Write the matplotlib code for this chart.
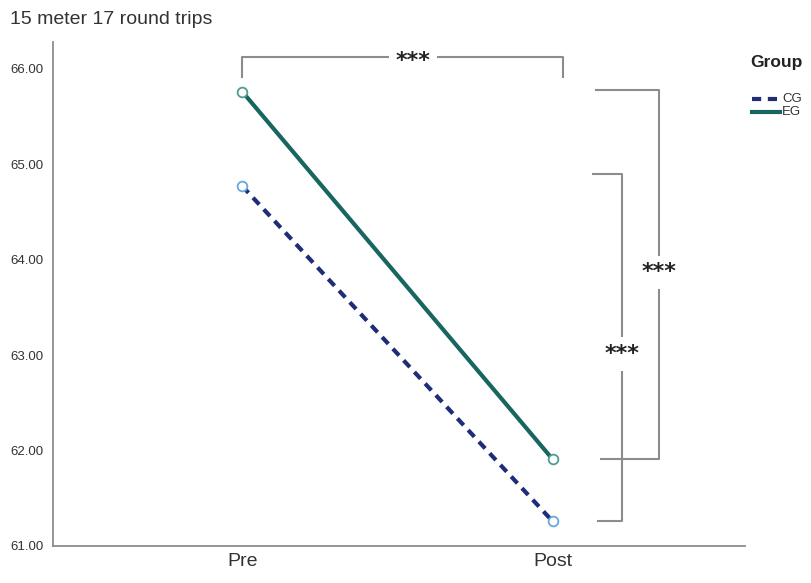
import numpy as np
import matplotlib.pyplot as plt
import matplotlib as mpl
from matplotlib.lines import Line2D

# data
times = ['Pre', 'Post']
cg_means = [64.77, 61.26]
eg_means = [65.76, 61.91]
y_ticks = [61, 62, 63, 64, 65, 66]
groups = ['CG', 'EG']

# colours
cg_color = '#1f2d78'
eg_color = '#17665f'
cg_marker = '#6aa6e0'
eg_marker = '#4f9c92'
grey = '#8c8c8c'
cg_dash = (0, (2.2, 1.6))

mpl.rcParams['font.family'] = ['Liberation Sans', 'DejaVu Sans']

fig = plt.figure(figsize=(8.12, 5.83), dpi=100, facecolor='w')
ax = fig.add_axes([0.0653, 0.0635, 0.852, 0.8645])

x = np.arange(len(times))
ax.plot(x, cg_means, color=cg_color, lw=3, ls=cg_dash, zorder=3)
ax.plot(x, eg_means, color=eg_color, lw=3, zorder=3)
ax.plot(x, cg_means, ls='none', marker='o', ms=7, mfc='white', mec=cg_marker, mew=1.3, zorder=4)
ax.plot(x, eg_means, ls='none', marker='o', ms=7, mfc='white', mec=eg_marker, mew=1.3, zorder=4)

ax.set_xlim(-0.61, 1.62)
ax.set_ylim(61, 66.28)
ax.set_xticks(x)
ax.set_xticklabels(times, fontsize=14, color='#333333')
ax.set_yticks(y_ticks)
ax.set_yticklabels(['%.2f' % v for v in y_ticks], fontsize=9.5, color='#333333')
ax.tick_params(length=0, pad=7)
ax.tick_params(axis='x', pad=5)
for s in ['top', 'right']:
    ax.spines[s].set_visible(False)
for s in ['left', 'bottom']:
    ax.spines[s].set_color(grey)
    ax.spines[s].set_linewidth(1.3)

# significance brackets
bk = dict(color=grey, lw=1.5, clip_on=False, zorder=2)

def stars(xp, yp):
    # asterisks sit high in the glyph box, so shift the baseline down
    ax.annotate('***', (xp, yp), xytext=(0, -7), textcoords='offset points',
                ha='center', va='baseline', fontsize=16, fontweight='bold',
                color='#222222', family='DejaVu Sans', annotation_clip=False,
                zorder=5, bbox=dict(fc='white', ec='none', pad=5))

# Pre vs Post comparison across groups (top)
top_y = max(eg_means) + 0.36
ax.plot([x[0], x[0], x[1] + 0.035, x[1] + 0.035],
        [top_y - 0.21, top_y, top_y, top_y - 0.21], **bk)
stars(0.55, top_y)

# EG pre vs post
xv = x[1] + 0.342
ax.plot([x[1] + 0.14, xv, xv, x[1] + 0.155],
        [eg_means[0] + 0.02, eg_means[0] + 0.02, eg_means[1], eg_means[1]], **bk)
stars(xv, (eg_means[0] + eg_means[1]) / 2 + 0.07)

# CG pre vs post
xv = x[1] + 0.223
ax.plot([x[1] + 0.13, xv, xv, x[1] + 0.148],
        [cg_means[0] + 0.13, cg_means[0] + 0.13, cg_means[1], cg_means[1]], **bk)
stars(xv, (cg_means[0] + 0.13 + cg_means[1]) / 2 - 0.03)

fig.text(0.012, 0.966, '15 meter 17 round trips', fontsize=14, color='#333333', va='center')

# legend, drawn by hand to get the wide gap under the title
fig.text(750 / 812, 1 - 62 / 583, 'Group', fontsize=12.5, fontweight='bold',
         color='#222222', va='center', ha='left')
for i, (g, c, ls) in enumerate(zip(groups, [cg_color, eg_color], [cg_dash, '-'])):
    yy = 1 - (99 + 13 * i) / 583
    fig.add_artist(Line2D([752 / 812, 780 / 812], [yy, yy], color=c, lw=3, ls=ls,
                          transform=fig.transFigure))
    fig.text(782 / 812, yy, g, fontsize=9.5, color='#333333', va='center', ha='left')

fig.savefig('out.png', dpi=100)
